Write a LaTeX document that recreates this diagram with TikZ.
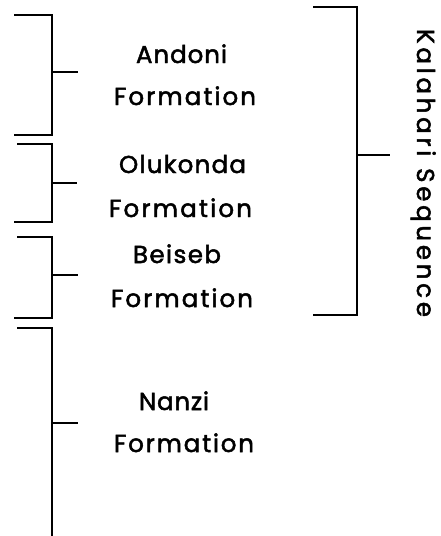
\documentclass[tikz,border=0pt]{standalone}
\usepackage{fontspec}
\newfontfamily\geo[FakeBold=2]{Poppins}
\makeatletter
\newcommand\ltrs[1]{\ltrs@#1\@nil}
\def\ltrs@#1#2\@nil{#1\ifx\relax#2\relax\else\hfill\ltrs@#2\@nil\fi}
\makeatother
\newcommand\spread[2]{\makebox[#1][s]{\ltrs{#2}}}
\begin{document}
\begin{tikzpicture}[x=1pt,y=-1pt,
  brk/.style={line width=1.9pt, line cap=butt, line join=miter},
  lbl/.style={font=\geo\fontsize{24.5}{28}\selectfont, anchor=base, inner sep=0pt},
  seq/.style={font=\geo\fontsize{24.5}{28}\selectfont, anchor=base, inner sep=0pt, rotate=-90}]
\useasboundingbox (0,0) rectangle (440,536);
% left brackets
\draw[brk] (14,15) -- (52,15) -- (52,135) -- (14,135);
\draw[brk] (17,144) -- (52,144) -- (52,222) -- (14,222);
\draw[brk] (17,237) -- (52,237) -- (52,318) -- (14,318);
\draw[brk] (17,328) -- (52,328) -- (52,536);
% right bracket
\draw[brk] (313,7) -- (357,7) -- (357,315) -- (313,315);
% tick ends
\coordinate (tA) at (78,72);
\coordinate (tO) at (77,183);
\coordinate (tB) at (78,275);
\coordinate (tN) at (78,423);
\coordinate (tK) at (390,155);
\draw[brk] (52,72) -- (tA);
\draw[brk] (52,183) -- (tO);
\draw[brk] (52,275) -- (tB);
\draw[brk] (52,423) -- (tN);
\draw[brk] (357,155) -- (tK);
% labels
\node[lbl] (andoni) at (181.5,63) {\spread{91pt}{Andoni}};
\node[lbl] (andoniF) at (185,105) {\spread{142pt}{Formation}};
\node[lbl] (oluk) at (182.5,173) {\spread{127pt}{Olukonda}};
\node[lbl] (olukF) at (180.5,217) {\spread{143pt}{Formation}};
\node[lbl] (beiseb) at (177,263) {\spread{88pt}{Beiseb}};
\node[lbl] (beisebF) at (182,307) {\spread{142pt}{Formation}};
\node[lbl] (nanzi) at (174,410) {\spread{70pt}{Nanzi}};
\node[lbl] (nanziF) at (184,452) {\spread{140pt}{Formation}};
\node[seq] (kal) at (417,173) {\makebox[288pt][s]{\ltrs{Kalahari}\hspace{8pt}\hfill\ltrs{Sequence}}};
\end{tikzpicture}
\end{document}
